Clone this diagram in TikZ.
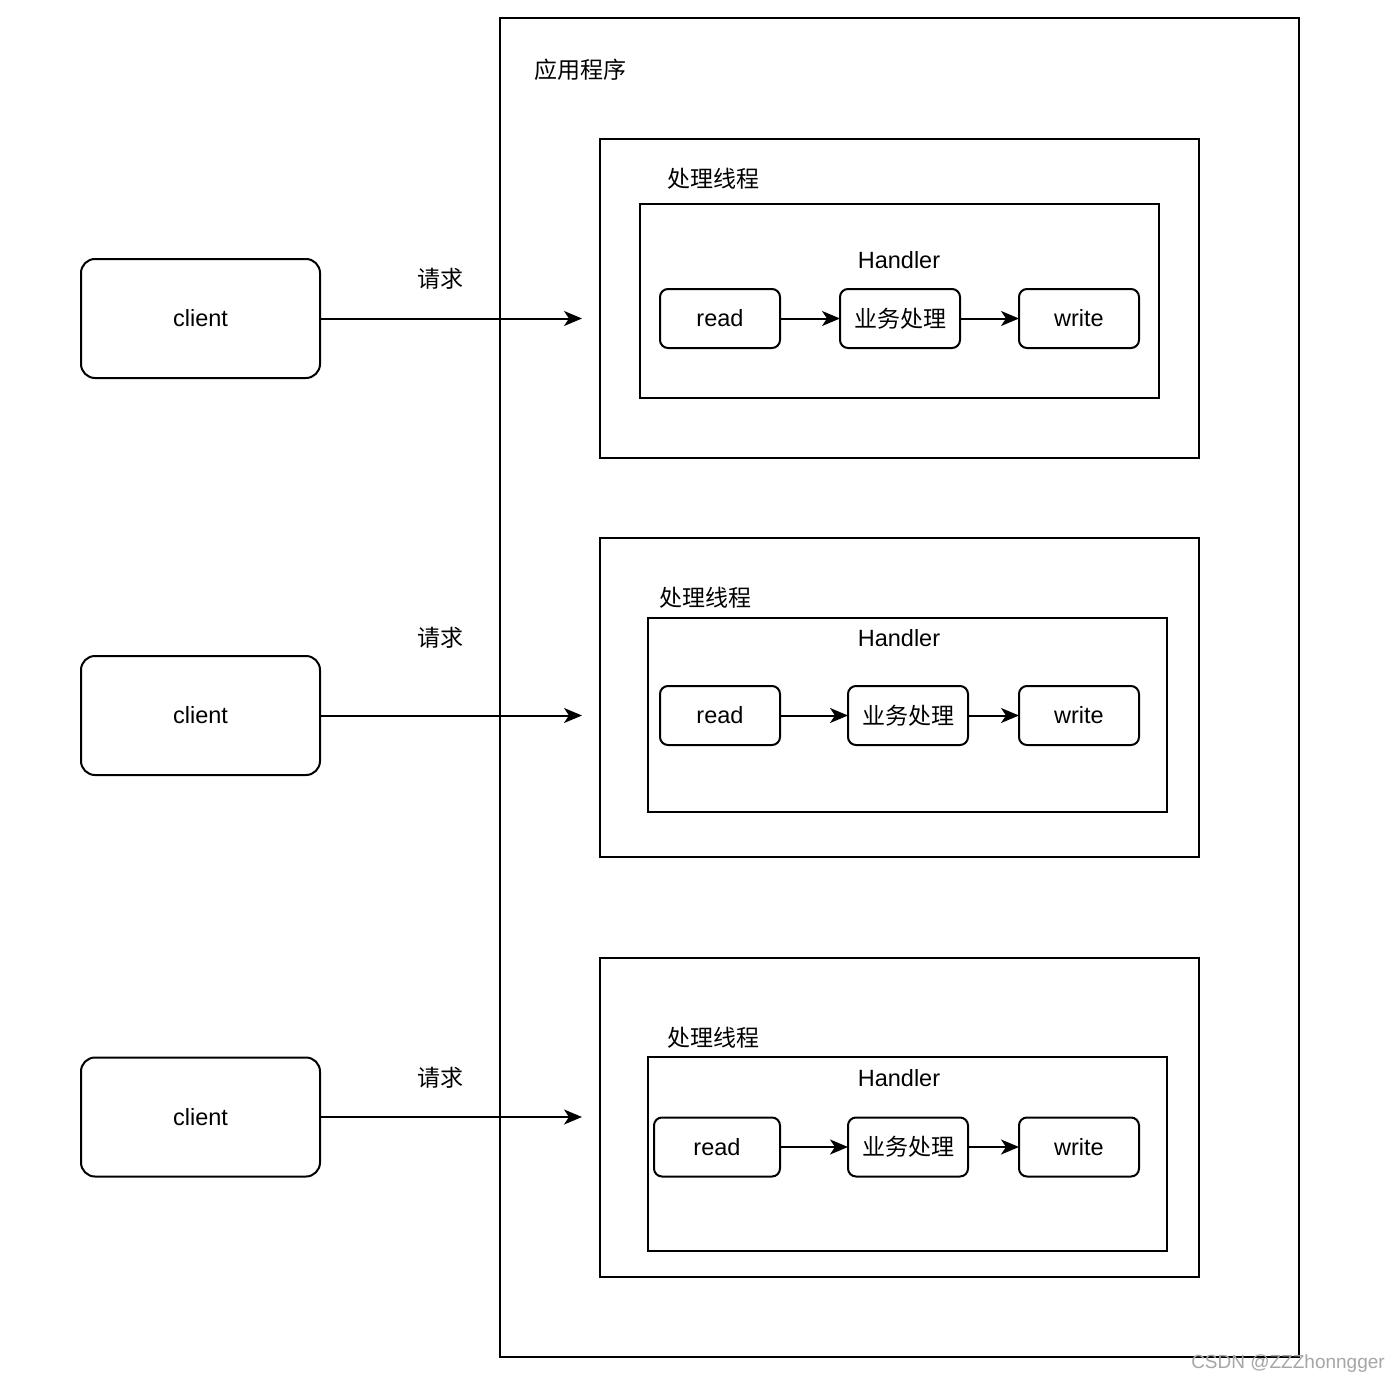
\documentclass[tikz,border=0pt]{standalone}
\usepackage{fontspec}
\setmainfont{Liberation Sans}
\newfontfamily\cjk{Noto Sans CJK SC}
\usetikzlibrary{arrows.meta}
\begin{document}
\begin{tikzpicture}[x=1pt,y=-1pt,
  every node/.style={font=\fontsize{23.5}{28}\selectfont},
  frame/.style={draw=black,line width=2pt,inner sep=0pt,outer sep=0pt},
  clientbox/.style={frame,rounded corners=14pt,minimum width=239pt,minimum height=119pt},
  stepbox/.style={frame,rounded corners=8pt,minimum width=120pt,minimum height=59pt},
  lbl/.style={inner sep=0pt},
  conn/.style={line width=2pt,-{Stealth[length=18pt,width=15pt,inset=5pt]}},
  wm/.style={inner sep=0pt,text=black!35,font=\fontsize{19}{22}\selectfont}
]
\useasboundingbox[fill=white] (0,0) rectangle (1400,1386);

% application
\node[frame,minimum width=799pt,minimum height=1339pt] (app) at (899.5,687.5) {};
\node[lbl,font=\cjk\fontsize{23}{28}\selectfont] (appl) at (580,70) {应用程序};

% ---- thread 1
\node[frame,minimum width=599pt,minimum height=319pt] (t1) at (899.5,298.5) {};
\node[lbl,font=\cjk\fontsize{23}{28}\selectfont] (t1l) at (713,179) {处理线程};
\node[frame,minimum width=519pt,minimum height=194pt] (h1) at (899.5,301) {};
\node[lbl] (h1l) at (899,260) {Handler};
\node[stepbox,text width=110pt,align=center] (r1) at (720,318.5) {read\hspace*{10pt}};
\node[stepbox,font=\cjk\fontsize{23}{28}\selectfont] (b1) at (900,318.5) {业务处理};
\node[stepbox] (w1) at (1079,318.5) {write};
\draw[conn] (r1) -- (b1);
\draw[conn] (b1) -- (w1);

% ---- thread 2
\node[frame,minimum width=599pt,minimum height=319pt] (t2) at (899.5,697.5) {};
\node[lbl,font=\cjk\fontsize{23}{28}\selectfont] (t2l) at (705,598) {处理线程};
\node[frame,minimum width=519pt,minimum height=194pt] (h2) at (907.5,715) {};
\node[lbl] (h2l) at (899,638) {Handler};
\node[stepbox,text width=110pt,align=center] (r2) at (720,715.5) {read\hspace*{10pt}};
\node[stepbox,font=\cjk\fontsize{23}{28}\selectfont] (b2) at (908,715.5) {业务处理};
\node[stepbox] (w2) at (1079,715.5) {write};
\draw[conn] (r2) -- (b2);
\draw[conn] (b2) -- (w2);

% ---- thread 3
\node[frame,minimum width=599pt,minimum height=319pt] (t3) at (899.5,1117.5) {};
\node[lbl,font=\cjk\fontsize{23}{28}\selectfont] (t3l) at (713,1038) {处理线程};
\node[frame,minimum width=519pt,minimum height=194pt] (h3) at (907.5,1154) {};
\node[lbl] (h3l) at (899,1078) {Handler};
\node[stepbox,minimum width=126pt,text width=116pt,align=center] (r3) at (717,1147) {read\hspace*{10pt}};
\node[stepbox,font=\cjk\fontsize{23}{28}\selectfont] (b3) at (908,1147) {业务处理};
\node[stepbox] (w3) at (1079,1147) {write};
\draw[conn] (r3) -- (b3);
\draw[conn] (b3) -- (w3);

% ---- clients
\node[clientbox] (c1) at (200.5,318.5) {client};
\node[clientbox] (c2) at (200.5,715.5) {client};
\node[clientbox] (c3) at (200.5,1117) {client};
\coordinate (e1) at (582,318.5);
\coordinate (e2) at (582,715.5);
\coordinate (e3) at (582,1117);
\draw[conn] (c1.east) -- (e1);
\draw[conn] (c2.east) -- (e2);
\draw[conn] (c3.east) -- (e3);
\node[lbl,font=\cjk\fontsize{23}{28}\selectfont] (q1) at (440,279) {请求};
\node[lbl,font=\cjk\fontsize{23}{28}\selectfont] (q2) at (440,638) {请求};
\node[lbl,font=\cjk\fontsize{23}{28}\selectfont] (q3) at (440,1078) {请求};

% watermark
\node[wm] (wmk) at (1288,1364) {CSDN @ZZZhonngger};
\end{tikzpicture}
\end{document}
